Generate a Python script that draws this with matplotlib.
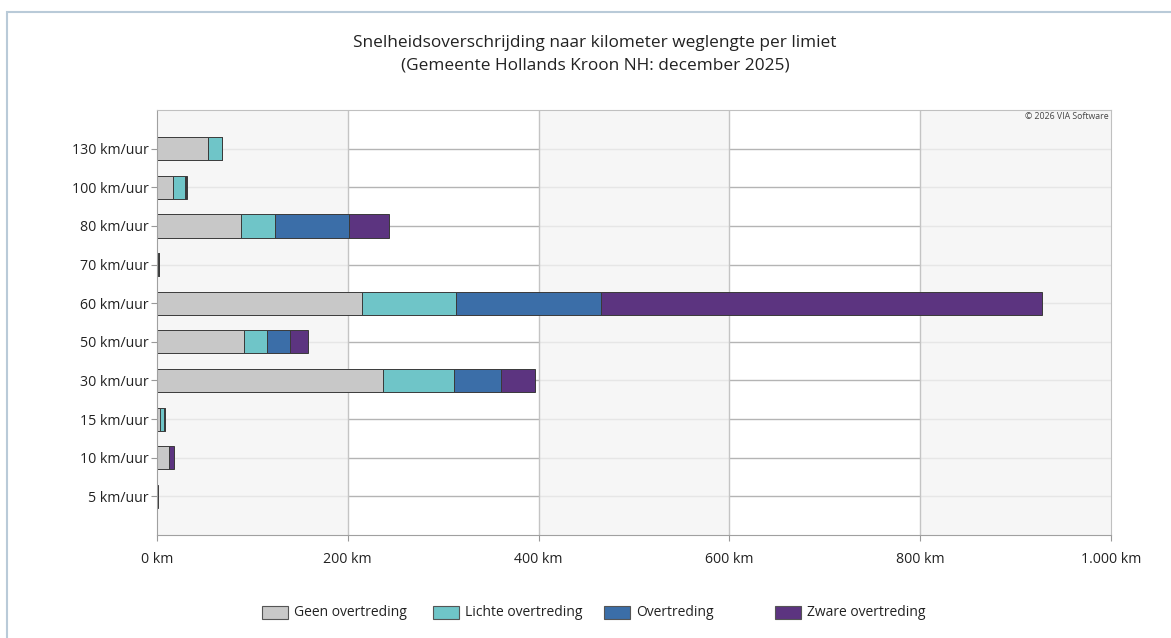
import matplotlib
matplotlib.use("Agg")
import matplotlib.pyplot as plt
from matplotlib.patches import Rectangle

plt.rcParams["font.family"] = ["Open Sans", "DejaVu Sans"]

# Data (km road length per speed limit)
categories = ["130 km/uur", "100 km/uur", "80 km/uur", "70 km/uur", "60 km/uur",
              "50 km/uur", "30 km/uur", "15 km/uur", "10 km/uur", "5 km/uur"]
geen = [53, 17, 88, 1.5, 215, 91, 237, 3.5, 12.5, 0.3]
lichte = [15, 12.5, 36, 0.3, 98, 24.5, 74.5, 3.5, 0.3, 0.1]
overtreding = [0, 1, 77.5, 0.3, 152, 24, 49.5, 1.5, 0.3, 0.1]
zware = [0, 0.5, 41.5, 0.4, 463, 18.5, 35, 0.3, 4.5, 0.6]
series_names = ["Geen overtreding", "Lichte overtreding", "Overtreding", "Zware overtreding"]
series_colors = ["#c8c8c8", "#6fc5c8", "#3b6ea8", "#5c3480"]
x_ticks = [0, 200, 400, 600, 800, 1000]
x_ticklabels = ["0 km", "200 km", "400 km", "600 km", "800 km", "1.000 km"]

W, H = 1171, 638
fig = plt.figure(figsize=(W / 100, H / 100), dpi=100)
ax = fig.add_axes([157 / W, 1 - 535 / H, (1111 - 157) / W, (535 - 110) / H])

# outer frame of the chart
fig.add_artist(Rectangle((7 / W, -0.1), 1.1, 1 - 12 / H + 0.1, transform=fig.transFigure,
                         fill=False, edgecolor="#b9cad8", lw=1.5))

ypos = list(range(len(categories)))

# background: alternating bands, darker gridlines in the white bands
ax.hlines(ypos, 0, 1000, colors="#b4b4b4", lw=1, zorder=0)
for x0 in x_ticks[:-1:2]:
    ax.axvspan(x0, x0 + 200, color="#f6f6f6", lw=0, zorder=0.5)
    ax.hlines(ypos, x0, x0 + 200, colors="#e6e6e6", lw=1, zorder=0.6)
for x in x_ticks[1:-1]:
    ax.axvline(x, color="#c4c4c4", lw=1, zorder=0.7)

left = [0] * len(categories)
for vals, name, col in zip([geen, lichte, overtreding, zware], series_names, series_colors):
    ax.barh(ypos, vals, left=left, height=0.6, color=col, edgecolor="#3a3a3a",
            linewidth=0.7, label=name, zorder=2)
    left = [a + b for a, b in zip(left, vals)]

ax.set_xlim(0, 1000)
ax.set_ylim(10, -1)
ax.set_yticks(ypos)
ax.set_yticklabels(categories, fontsize=10.2, color="#222222")
ax.set_xticks(x_ticks)
ax.set_xticklabels(x_ticklabels, fontsize=10.2, color="#222222")
ax.tick_params(axis="both", length=4, color="#999999")
ax.tick_params(axis="y", pad=2)
ax.tick_params(axis="x", pad=8)
for side in ["left", "bottom"]:
    ax.spines[side].set_color("#a0a0a0")
for side in ["top", "right"]:
    ax.spines[side].set_color("#c0c0c0")

ax.text(0.998, 0.996, "© 2026 VIA Software", transform=ax.transAxes, ha="right", va="top",
        fontsize=6.3, color="#444444")

fig.text(595 / W, 1 - 43 / H, "Snelheidsoverschrijding naar kilometer weglengte per limiet",
         ha="center", va="center", fontsize=12.4, color="#222222")
fig.text(595 / W, 1 - 66 / H, "(Gemeente Hollands Kroon NH: december 2025)",
         ha="center", va="center", fontsize=12.4, color="#222222")

# legend in fixed-width columns
for i, (name, col) in enumerate(zip(series_names, series_colors)):
    x0 = 262 + i * 171
    fig.add_artist(Rectangle((x0 / W, 1 - 619 / H), 26 / W, 13 / H, transform=fig.transFigure,
                             facecolor=col, edgecolor="#555555", lw=0.8))
    fig.text((x0 + 32) / W, 1 - 612 / H, name, ha="left", va="center", fontsize=10,
             color="#222222")

fig.savefig("out.png", dpi=100)
